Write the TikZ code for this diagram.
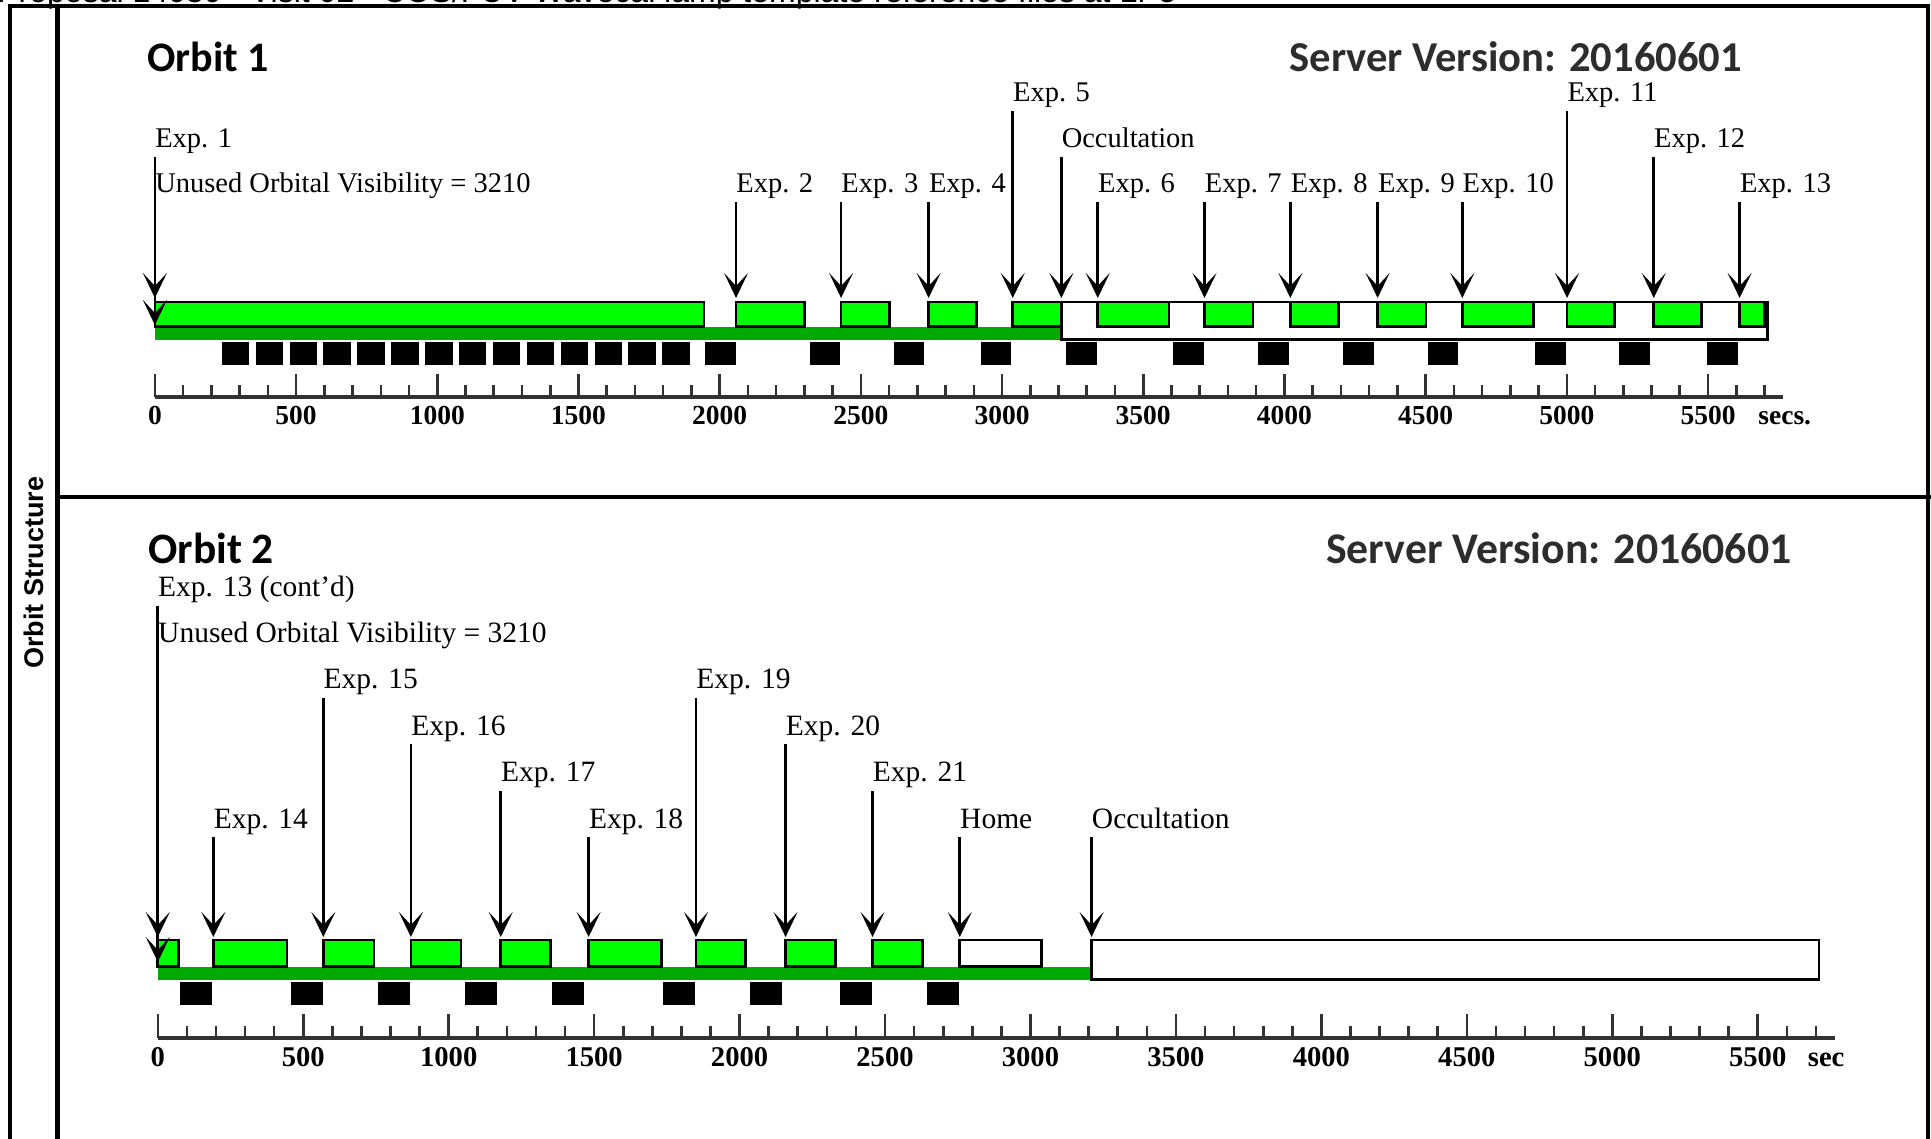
\documentclass[tikz,border=0pt]{standalone}
\usepackage{fontspec}
\setmainfont{Liberation Serif}
\newfontfamily\hdrsans{Liberation Sans}
\newfontfamily\ttlsans{Carlito}
\usetikzlibrary{arrows.meta}
\definecolor{expgreen}{RGB}{0,255,0}
\definecolor{stripgreen}{RGB}{0,170,0}
\definecolor{axisgray}{RGB}{50,50,50}
\definecolor{servergray}{RGB}{45,45,45}
\begin{document}
\begin{tikzpicture}[x=0.5pt,y=-0.5pt,
  frameline/.style={line width=2.4pt},
  expbox/.style={draw=black,fill=expgreen,line width=1.35pt},
  whitebox/.style={draw=black,fill=white,line width=1.35pt},
  strip/.style={fill=stripgreen},
  gapbox/.style={fill=black},
  axisline/.style={draw=axisgray,line width=1.6pt},
  tickline/.style={draw=axisgray,line width=1.3pt},
  arr/.style={line width=1.35pt,-{Stealth[length=12.5pt,width=12pt,inset=6.5pt]}},
  lblA/.style={inner sep=0pt,anchor=base west,font=\fontsize{14.25}{16}\selectfont},
  lblB/.style={inner sep=0pt,anchor=base west,font=\fontsize{14.75}{17}\selectfont},
  numA/.style={inner sep=0pt,anchor=base,font=\bfseries\fontsize{13.75}{16}\selectfont},
  numB/.style={inner sep=0pt,anchor=base,font=\bfseries\fontsize{14.3}{16}\selectfont},
  orbtitle/.style={inner sep=0pt,anchor=base west,font=\ttlsans\bfseries\fontsize{21}{24}\selectfont},
  srvtitle/.style={inner sep=0pt,anchor=base east,text=servergray,font=\ttlsans\bfseries\fontsize{21.3}{24}\selectfont},
]
\useasboundingbox (0,0) rectangle (1931,1139);
\fill[white] (0,0) rectangle (1931,1139);

% header (cut off at top, as in the reference)
\node[inner sep=0pt,anchor=base west,font=\hdrsans\fontsize{16}{18}\selectfont] (hdr) at (-3,2.5)
  {Proposal 14030 - Visit 02 - COS/FUV Wavecal lamp template reference files at LP5};

% frame
\draw[frameline] (10,1145) -- (10,6) -- (1928,6) -- (1928,1145);
\draw[frameline] (57.5,6) -- (57.5,1145);
\draw[frameline] (57.5,497) -- (1935,497);

\node[inner sep=0pt,rotate=90,font=\hdrsans\bfseries\fontsize{13.5}{16}\selectfont] (side) at (33.5,572.6) {Orbit Structure};

% ================= ORBIT 1 =================
\node[orbtitle] (t1) at (147,71.7) {Orbit 1};
\node[srvtitle] (s1) at (1742.5,71.7) {Server Version: 20160601};

\begin{scope}[shift={(154.9,0)},x=0.14119pt]
  \fill[strip] (0,326.5) rectangle (3210,340);
  \draw[whitebox] (3210,302) rectangle (5711,339.5);
  \foreach \a/\b in {0/1945,2058/2300,2430/2601,2740/2910,3038/3210,3339/3591,3717/3889,4021/4192,4330/4501,4630/4881,5001/5170,5308/5478,5612/5700}
    \draw[expbox] (\a,302) rectangle (\b,326.5);
  \foreach \k in {0,...,13}
    \fill[gapbox] ({237+120*\k},342) rectangle ++(97,23);
  \foreach \a/\b in {1948/2058,2320/2426,2617/2725,2925/3033,3227/3336,3606/3715,3907/4016,4208/4317,4508/4615,4887/4997,5185/5295,5497/5606}
    \fill[gapbox] (\a,342) rectangle (\b,365);
  % axis
  \draw[axisline] (0,397) -- (5765,397);
  \foreach \t in {100,200,...,5700}
    \draw[tickline] (\t,385) -- (\t,397);
  \foreach \t in {0,500,...,5500}{
    \draw[tickline] (\t,374) -- (\t,397);
    \node[numA] (o1n\t) at (\t,424.5) {\t};
  }
  \node[numA,anchor=base west] (o1secs) at (5677,424.5) {secs.};
  % labels and arrows
  \foreach \t/\yb/\txt/\n in {0/147.5/Exp. 1/a1,2058/193/Exp. 2/a2,2430/193/Exp. 3/a3,2740/193/Exp. 4/a4,3038/101.5/Exp. 5/a5,3210/147.5/Occultation/aocc,3339/193/Exp. 6/a6,3717/193/Exp. 7/a7,4021/193/Exp. 8/a8,4330/193/Exp. 9/a9,4630/193/Exp. 10/a10,5001/101.5/Exp. 11/a11,5308/147.5/Exp. 12/a12,5612/193/Exp. 13/a13}{
    \node[lblA] (\n) at (\t,\yb) {\txt};
    \coordinate (\n-tip) at (\t,298);
    \draw[arr] ([yshift=-4.75pt]\n.base west) -- (\n-tip);
  }
  \node[lblA] (u1) at (0,193) {Unused Orbital Visibility = 3210};
  \coordinate (u1-tip) at (0,325);
  \draw[arr] ([yshift=-4.75pt]u1.base west) -- (u1-tip);
\end{scope}

% ================= ORBIT 2 =================
\node[orbtitle,font=\ttlsans\bfseries\fontsize{21.7}{24}\selectfont] (t2) at (148,563.3) {Orbit 2};
\node[srvtitle,font=\ttlsans\bfseries\fontsize{21.9}{24}\selectfont] (s2) at (1792,563.5) {Server Version: 20160601};

\begin{scope}[shift={(157.8,0)},x=0.14545pt]
  \fill[strip] (0,966.5) rectangle (3210,979.5);
  \draw[whitebox] (3210,940) rectangle (5711,979.5);
  \foreach \a/\b in {0/72,191/444,569/743,870/1042,1179/1351,1481/1732,1850/2021,2158/2330,2457/2628}
    \draw[expbox] (\a,940) rectangle (\b,966.5);
  \draw[whitebox] (2757,940) rectangle (3039,966.5);
  \foreach \a/\b in {77/186,458/567,757/866,1056/1165,1356/1464,1737/1847,2036/2146,2344/2455,2643/2754}
    \fill[gapbox] (\a,982) rectangle (\b,1005);
  % axis
  \draw[axisline] (0,1038) -- (5765,1038);
  \foreach \t in {100,200,...,5700}
    \draw[tickline] (\t,1026) -- (\t,1038);
  \foreach \t in {0,500,...,5500}{
    \draw[tickline] (\t,1014) -- (\t,1038);
    \node[numB] (o2n\t) at (\t,1066.5) {\t};
  }
  \node[numB,anchor=base west] (o2secs) at (5671,1066.5) {sec};
  % labels and arrows
  \foreach \t/\yb/\txt/\n in {0/596.5/Exp. 13 (cont'd)/b13,191/828/Exp. 14/b14,569/688.5/Exp. 15/b15,870/735/Exp. 16/b16,1179/781.8/Exp. 17/b17,1481/828/Exp. 18/b18,1850/688.5/Exp. 19/b19,2158/735/Exp. 20/b20,2457/781.8/Exp. 21/b21,2757/828/Home/bhome,3210/828/Occultation/bocc}{
    \node[lblB] (\n) at (\t,\yb) {\txt};
    \coordinate (\n-tip) at (\t,937);
    \draw[arr] ([yshift=-4.6pt]\n.base west) -- (\n-tip);
  }
  \node[lblB] (u2) at (0,642) {Unused Orbital Visibility = 3210};
  \coordinate (u2-tip) at (0,962);
  \draw[arr] ([yshift=-4.6pt]u2.base west) -- (u2-tip);
\end{scope}
\end{tikzpicture}
\end{document}
